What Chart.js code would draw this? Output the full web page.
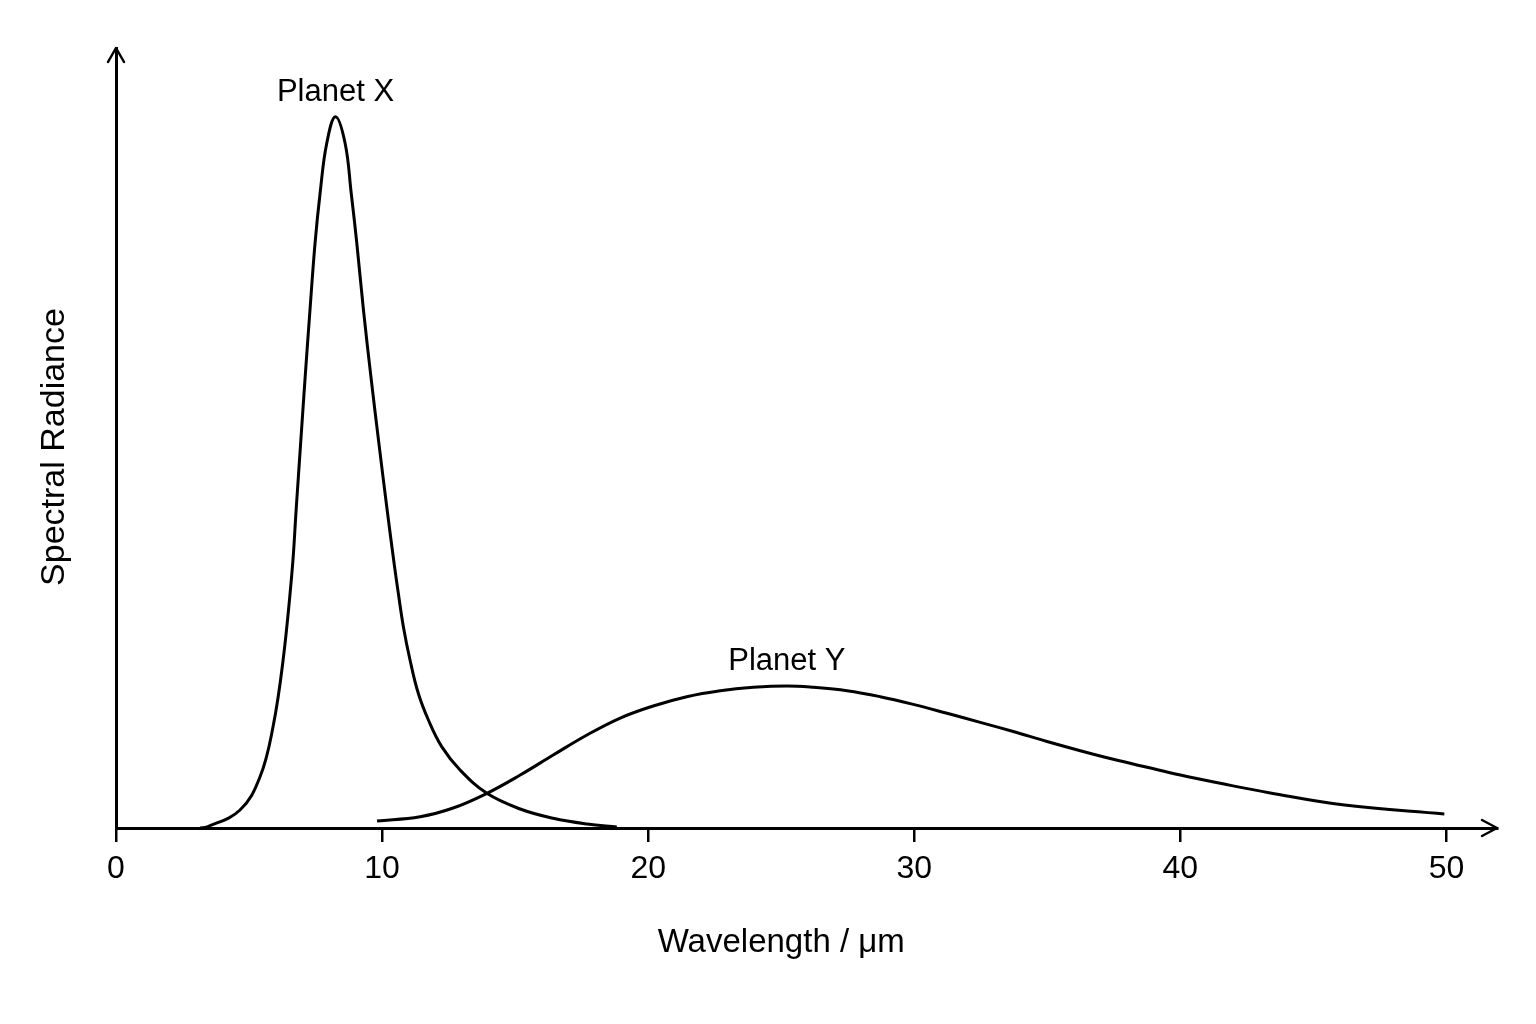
<!DOCTYPE html>
<html>
<head>
<meta charset="utf-8">
<script src="https://cdn.jsdelivr.net/npm/chart.js@4.4.1/dist/chart.umd.min.js"></script>
<style>
html, body { margin: 0; padding: 0; background: #fff; }
</style>
</head>
<body>
<canvas id="chart" width="1536" height="1024"></canvas>
<script>
// Curve readings (wavelength in µm, radiance in arbitrary units)
const planetXWavelength = [3.16, 3.42, 4.66, 5.41, 5.90, 6.28, 6.62, 6.77, 6.94, 7.11, 7.29, 7.48, 7.67, 7.92, 8.25,
    8.61, 8.84, 9.05, 9.30, 9.58, 9.88, 10.19, 10.46, 10.61, 10.80, 11.05, 11.36, 11.74, 12.24, 12.93, 13.94,
    15.19, 16.43, 17.70, 18.82];
const planetXRadiance = [0, 0.14, 2.54, 7.19, 14.24, 23.69, 36.38, 44.85, 54.3, 63.65, 73.05, 82.46, 89.51, 96.56, 100.31,
    96.56, 89.51, 82.46, 73.05, 63.65, 54.25, 44.85, 37.09, 33.1, 28.39, 23.69, 19.0, 15.23, 11.47, 8.18, 4.89,
    2.68, 1.37, 0.56, 0.14];

const planetYWavelength = [9.81, 11.43, 12.67, 13.94, 15.19, 16.43, 17.70, 18.95, 20.19, 21.45, 22.71, 23.95,
    25.21, 26.20, 27.47, 28.72, 29.96, 31.23, 32.48, 33.72, 34.99, 36.24, 37.48, 38.75, 40.00, 41.50, 43.38,
    46.17, 49.92];
const planetYRadiance = [0.99, 1.59, 2.82, 4.89, 7.47, 10.29, 13.12, 15.51, 17.21, 18.52, 19.36, 19.84,
    20.03, 19.84, 19.36, 18.52, 17.44, 16.18, 14.9, 13.6, 12.2, 10.9, 9.69, 8.56, 7.47, 6.3, 4.94,
    3.24, 1.97];

const seriesNames = ['Planet X', 'Planet Y'];
const xTickValues = [0, 10, 20, 30, 40, 50];
const xTitle = 'Wavelength / μm';
const yTitle = 'Spectral Radiance';

const fontFamily = "'Liberation Sans', Arial, Helvetica, sans-serif";
Chart.defaults.font.family = fontFamily;
Chart.defaults.color = '#000';

function toPoints(xs, ys) {
    return xs.map((x, i) => ({ x: x, y: ys[i] }));
}

// Open arrowheads at the end of both axes
const axisArrows = {
    id: 'axisArrows',
    afterDraw(chart) {
        const { ctx, chartArea: a } = chart;
        ctx.save();
        ctx.strokeStyle = '#000';
        ctx.lineWidth = 2.5;
        ctx.lineCap = 'round';
        ctx.lineJoin = 'round';
        ctx.beginPath();
        ctx.moveTo(a.left - 8, a.top + 14);
        ctx.lineTo(a.left, a.top);
        ctx.lineTo(a.left + 8, a.top + 14);
        ctx.moveTo(a.right - 15, a.bottom - 8);
        ctx.lineTo(a.right, a.bottom);
        ctx.lineTo(a.right - 15, a.bottom + 8);
        ctx.stroke();
        ctx.restore();
    }
};

// Curve names above each peak, plus the two axis titles
const chartTexts = {
    id: 'chartTexts',
    afterDatasetsDraw(chart) {
        const ctx = chart.ctx;
        const a = chart.chartArea;
        ctx.save();
        ctx.fillStyle = '#000';
        ctx.font = '31px ' + fontFamily;
        ctx.textAlign = 'center';
        ctx.textBaseline = 'alphabetic';
        chart.data.datasets.forEach((ds, i) => {
            const pts = chart.getDatasetMeta(i).data;
            let top = pts[0];
            pts.forEach(p => { if (p.y < top.y) top = p; });
            ctx.fillText(ds.label, top.x, top.y - 16);
        });

        const xs = chart.scales.x;
        const mid = (xTickValues[0] + xTickValues[xTickValues.length - 1]) / 2;
        ctx.font = '33px ' + fontFamily;
        ctx.textBaseline = 'middle';
        ctx.fillText(xTitle, xs.getPixelForValue(mid), a.bottom + 115);

        ctx.font = '34px ' + fontFamily;
        ctx.translate(a.left - 61, (a.top + a.bottom) / 2 + 9);
        ctx.rotate(-Math.PI / 2);
        ctx.fillText(yTitle, 0, 0);
        ctx.restore();
    }
};

const data = {
    datasets: [
        {
            label: seriesNames[0],
            data: toPoints(planetXWavelength, planetXRadiance),
            borderColor: '#000',
            borderWidth: 3,
            pointRadius: 0,
            fill: false,
            tension: 0.4
        },
        {
            label: seriesNames[1],
            data: toPoints(planetYWavelength, planetYRadiance),
            borderColor: '#000',
            borderWidth: 3,
            pointRadius: 0,
            fill: false,
            tension: 0.4
        }
    ]
};

const config = {
    type: 'line',
    data: data,
    options: {
        responsive: false,
        animation: false,
        devicePixelRatio: 1,
        layout: { padding: { top: 48, right: 39, bottom: 0, left: 0 } },
        plugins: {
            legend: { display: false },
            tooltip: { enabled: false }
        },
        scales: {
            x: {
                type: 'linear',
                min: 0,
                max: 51.9,
                afterBuildTicks: scale => { scale.ticks = xTickValues.map(v => ({ value: v })); },
                afterFit: scale => { scale.height = 196; },
                grid: {
                    display: true,
                    drawOnChartArea: false,
                    drawTicks: true,
                    tickLength: 14,
                    lineWidth: 2.5,
                    color: '#000',
                    tickColor: '#000'
                },
                border: { display: true, color: '#000', width: 3 },
                ticks: { color: '#000', font: { size: 32 }, padding: 8, maxRotation: 0 }
            },
            y: {
                min: 0,
                max: 110,
                afterFit: scale => { scale.width = 116; },
                grid: { display: false },
                border: { display: true, color: '#000', width: 3 },
                ticks: { display: false }
            }
        }
    },
    plugins: [axisArrows, chartTexts]
};

const spectrumChart = new Chart(document.getElementById('chart'), config);
</script>
</body>
</html>
